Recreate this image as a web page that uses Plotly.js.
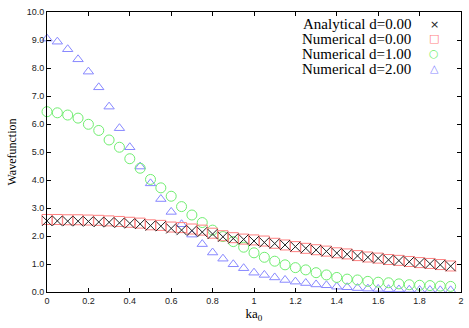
<!DOCTYPE html>
<html>
<head>
<meta charset="utf-8">
<script src="https://cdn.plot.ly/plotly-3.0.1.min.js"></script>
<style>
  html, body { margin: 0; padding: 0; background: #fff; }
  #plotArea { width: 469px; height: 328px; }
</style>
</head>
<body>
<div id="plotArea"></div>
<script>
// ka0 grid
var ka0 = [0, 0.05, 0.1, 0.15, 0.2, 0.25, 0.3, 0.35, 0.4, 0.45,
           0.5, 0.55, 0.6, 0.65, 0.7, 0.75, 0.8, 0.85, 0.9, 0.95,
           1.0, 1.05, 1.1, 1.15, 1.2, 1.25, 1.3, 1.35, 1.4, 1.45,
           1.5, 1.55, 1.6, 1.65, 1.7, 1.75, 1.8, 1.85, 1.9, 1.95];

var analytical0 = [2.54, 2.54, 2.53, 2.53, 2.52, 2.50, 2.49, 2.47, 2.45, 2.43,
                   2.37, 2.35, 2.27, 2.21, 2.19, 2.14, 2.07, 1.97, 1.91, 1.88,
                   1.82, 1.77, 1.73, 1.68, 1.62, 1.56, 1.50, 1.45, 1.39, 1.35,
                   1.29, 1.24, 1.20, 1.15, 1.12, 1.08, 1.04, 1.01, 0.97, 0.92];

var numerical0 = [2.59, 2.59, 2.58, 2.58, 2.57, 2.56, 2.54, 2.52, 2.49, 2.46,
                  2.40, 2.38, 2.32, 2.30, 2.25, 2.21, 2.10, 2.01, 1.94, 1.89,
                  1.86, 1.82, 1.74, 1.68, 1.62, 1.56, 1.51, 1.46, 1.40, 1.36,
                  1.30, 1.25, 1.21, 1.16, 1.13, 1.09, 1.05, 1.02, 0.98, 0.93];

var numerical1 = [6.44, 6.40, 6.32, 6.21, 5.99, 5.77, 5.43, 5.17, 4.76, 4.42,
                  4.02, 3.72, 3.42, 3.05, 2.75, 2.48, 2.21, 1.98, 1.80, 1.60,
                  1.40, 1.24, 1.10, 0.97, 0.87, 0.79, 0.69, 0.61, 0.52, 0.46,
                  0.43, 0.38, 0.35, 0.33, 0.29, 0.26, 0.24, 0.23, 0.21, 0.20];

var numerical2 = [9.05, 8.94, 8.67, 8.31, 7.87, 7.31, 6.62, 5.85, 5.17, 4.48,
                  3.88, 3.32, 2.86, 2.42, 2.05, 1.71, 1.41, 1.19, 0.99, 0.85,
                  0.69, 0.61, 0.52, 0.43, 0.37, 0.32, 0.27, 0.24, 0.19, 0.17,
                  0.14, 0.12, 0.11, 0.10, 0.09, 0.08, 0.07, 0.07, 0.06, 0.06];

var seriesNames = ["Analytical d=0.00", "Numerical d=0.00", "Numerical d=1.00", "Numerical d=2.00"];
var seriesColors = ["#222222", "#ff8080", "#70ee70", "#8888ff"];
var seriesSymbols = ["x-thin-open", "square-open", "circle-open", "triangle-up-open"];
var legendGlyphs = ["\u00d7", "\u25a1", "\u25cb", "\u25b3"];
var seriesData = [analytical0, numerical0, numerical1, numerical2];

var markerSizes = [10, 10, 10, 9];

var traces = [];
// draw the green/blue first so the d=0 sets sit on top like the original
var drawOrder = [3, 2, 1, 0];
drawOrder.forEach(function (i) {
    traces.push({
        x: ka0,
        y: seriesData[i],
        name: seriesNames[i],
        type: "scatter",
        mode: "markers",
        cliponaxis: false,
        marker: {
            symbol: seriesSymbols[i],
            size: markerSizes[i],
            color: seriesColors[i],
            line: {color: seriesColors[i], width: 1}
        }
    });
});

// legend drawn gnuplot style: text right aligned, symbol on the right
var annotations = [];
var rowY = [0.957, 0.904, 0.851, 0.797];
for (var i = 0; i < seriesNames.length; i++) {
    annotations.push({
        xref: "paper", yref: "paper",
        x: 0.885, y: rowY[i],
        xanchor: "right", yanchor: "middle",
        text: seriesNames[i],
        showarrow: false,
        font: {family: "Liberation Serif", size: 15, color: "#000"}
    });
    annotations.push({
        xref: "paper", yref: "paper",
        x: 0.935, y: rowY[i],
        xanchor: "center", yanchor: "middle",
        text: legendGlyphs[i],
        showarrow: false,
        font: {family: "DejaVu Sans", size: 11, color: seriesColors[i]}
    });
}

var axisCommon = {
    showgrid: false,
    zeroline: false,
    showline: true,
    linecolor: "#000",
    linewidth: 1,
    mirror: "allticks",
    ticks: "inside",
    ticklen: 4,
    tickcolor: "#000",
    tickfont: {family: "Liberation Sans", size: 9, color: "#222"}
};

var layout = {
    width: 469,
    height: 328,
    margin: {l: 47, r: 8, t: 12, b: 36},
    paper_bgcolor: "#fff",
    plot_bgcolor: "#fff",
    showlegend: false,
    xaxis: Object.assign({}, axisCommon, {
        range: [0, 2],
        dtick: 0.2,
        tick0: 0,
        title: {text: "ka<sub>0</sub>", font: {family: "Liberation Serif", size: 13, color: "#000"}, standoff: 4}
    }),
    yaxis: Object.assign({}, axisCommon, {
        range: [0, 10],
        dtick: 1,
        tick0: 0,
        tickformat: ".1f",
        title: {text: "Wavefunction", font: {family: "Liberation Serif", size: 12, color: "#000"}, standoff: 7}
    }),
    annotations: annotations
};

Plotly.newPlot("plotArea", traces, layout, {displayModeBar: false, staticPlot: true});
</script>
</body>
</html>
